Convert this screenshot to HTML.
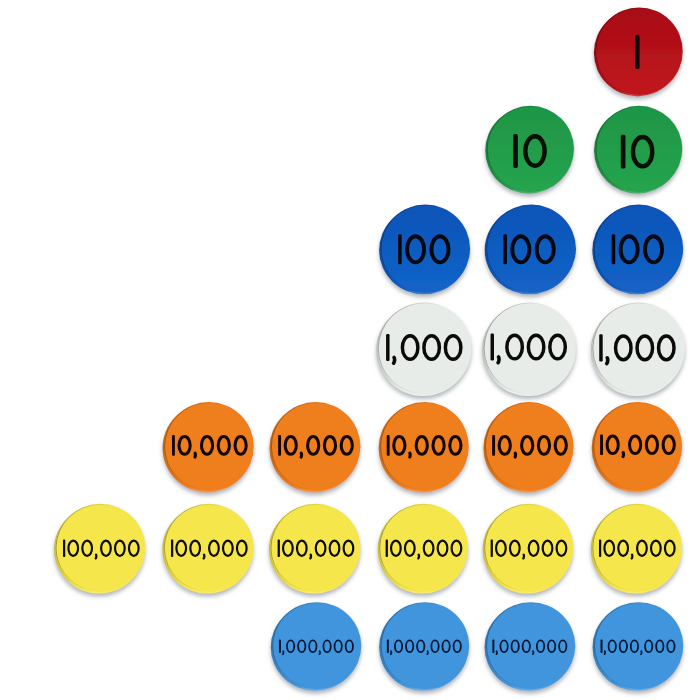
<!DOCTYPE html>
<html><head><meta charset="utf-8"><title>Place value discs</title>
<style>
html,body{margin:0;padding:0;background:#fff;}
body{width:700px;height:700px;overflow:hidden;font-family:"Liberation Sans",sans-serif;}
svg{display:block;}
</style></head><body>
<svg width="700" height="700" viewBox="0 0 700 700">
<defs>
<filter id="sh" x="-20%" y="-20%" width="140%" height="150%">
<feGaussianBlur in="SourceAlpha" stdDeviation="2.0"/>
<feOffset dx="0" dy="3.0" result="b"/>
<feFlood flood-color="#9ea3aa" flood-opacity="0.8"/>
<feComposite in2="b" operator="in"/>
<feMerge><feMergeNode/><feMergeNode in="SourceGraphic"/></feMerge>
</filter>
<linearGradient id="rim" x1="0" y1="0.4" x2="0.55" y2="0.55">
<stop offset="0" stop-color="#000" stop-opacity="0.32"/>
<stop offset="0.5" stop-color="#000" stop-opacity="0.12"/>
<stop offset="1" stop-color="#000" stop-opacity="0"/>
</linearGradient>
</defs>
<rect width="700" height="700" fill="#fff"/>

<linearGradient id="fg0" x1="0" y1="0" x2="0" y2="1"><stop offset="0.1" stop-color="#a90d15"/><stop offset="0.9" stop-color="#bf161e"/></linearGradient>
<linearGradient id="sg0" x1="0" y1="0.3" x2="1" y2="0.7"><stop offset="0" stop-color="#8c0d14"/><stop offset="0.45" stop-color="#b4111a"/><stop offset="0.6" stop-color="#c23c43"/></linearGradient>
<linearGradient id="fg1" x1="0" y1="0" x2="0" y2="1"><stop offset="0.1" stop-color="#1f9646"/><stop offset="0.9" stop-color="#25a34e"/></linearGradient>
<linearGradient id="sg1" x1="0" y1="0.3" x2="1" y2="0.7"><stop offset="0" stop-color="#1b7a3a"/><stop offset="0.45" stop-color="#229c4a"/><stop offset="0.6" stop-color="#4aae6b"/></linearGradient>
<linearGradient id="fg2" x1="0" y1="0" x2="0" y2="1"><stop offset="0.1" stop-color="#0d55b9"/><stop offset="0.9" stop-color="#1262c7"/></linearGradient>
<linearGradient id="sg2" x1="0" y1="0.3" x2="1" y2="0.7"><stop offset="0" stop-color="#0c4796"/><stop offset="0.45" stop-color="#105bc0"/><stop offset="0.6" stop-color="#3b79cb"/></linearGradient>
<linearGradient id="sg3" x1="0" y1="0.3" x2="1" y2="0.7"><stop offset="0" stop-color="#b5b8b5"/><stop offset="0.45" stop-color="#e8ece8"/><stop offset="0.6" stop-color="#ecefec"/></linearGradient>
<linearGradient id="sg4" x1="0" y1="0.3" x2="1" y2="0.7"><stop offset="0" stop-color="#ba6215"/><stop offset="0.45" stop-color="#ef7e1b"/><stop offset="0.6" stop-color="#f29544"/></linearGradient>
<linearGradient id="sg5" x1="0" y1="0.3" x2="1" y2="0.7"><stop offset="0" stop-color="#beb33b"/><stop offset="0.45" stop-color="#f4e64c"/><stop offset="0.6" stop-color="#f6eb6c"/></linearGradient>
<linearGradient id="sg6" x1="0" y1="0.3" x2="1" y2="0.7"><stop offset="0" stop-color="#3174ac"/><stop offset="0.45" stop-color="#3f95dc"/><stop offset="0.6" stop-color="#62a8e2"/></linearGradient>
<g filter="url(#sh)"><ellipse cx="637.55" cy="52.70" rx="43.75" ry="43.70" fill="url(#sg0)"/><ellipse cx="639.05" cy="51.20" rx="43.75" ry="43.70" fill="url(#fg0)"/></g>
<ellipse cx="639.05" cy="51.20" rx="43.25" ry="43.20" fill="none" stroke="url(#rim)" stroke-width="1.0"/>
<g fill="#0c0a0a"><rect x="635.22" y="35.10" width="4.37" height="33.80" rx="1.53"/></g>
<g filter="url(#sh)"><ellipse cx="528.85" cy="150.50" rx="43.65" ry="43.15" fill="url(#sg1)"/><ellipse cx="530.35" cy="149.00" rx="43.65" ry="43.15" fill="url(#fg1)"/></g>
<ellipse cx="530.35" cy="149.00" rx="43.15" ry="42.65" fill="none" stroke="url(#rim)" stroke-width="1.0"/>
<g fill="#0a0f0a"><rect x="513.16" y="134.10" width="4.70" height="33.80" rx="1.65"/><ellipse cx="535.01" cy="151.00" rx="9.65" ry="14.72" fill="none" stroke="#0a0f0a" stroke-width="4.37"/></g>
<g filter="url(#sh)"><ellipse cx="637.40" cy="150.50" rx="43.40" ry="43.15" fill="url(#sg1)"/><ellipse cx="638.90" cy="149.00" rx="43.40" ry="43.15" fill="url(#fg1)"/></g>
<ellipse cx="638.90" cy="149.00" rx="42.90" ry="42.65" fill="none" stroke="url(#rim)" stroke-width="1.0"/>
<g fill="#0a0f0a"><rect x="620.76" y="134.80" width="4.70" height="33.80" rx="1.65"/><ellipse cx="642.61" cy="151.70" rx="9.65" ry="14.72" fill="none" stroke="#0a0f0a" stroke-width="4.37"/></g>
<g filter="url(#sh)"><ellipse cx="423.85" cy="250.20" rx="44.75" ry="44.10" fill="url(#sg2)"/><ellipse cx="425.35" cy="248.70" rx="44.75" ry="44.10" fill="url(#fg2)"/></g>
<ellipse cx="425.35" cy="248.70" rx="44.25" ry="43.60" fill="none" stroke="url(#rim)" stroke-width="1.0"/>
<g fill="#05080f"><rect x="398.12" y="234.30" width="3.58" height="30.00" rx="1.25"/><ellipse cx="415.59" cy="249.30" rx="8.54" ry="13.04" fill="none" stroke="#05080f" stroke-width="3.92"/><ellipse cx="439.98" cy="249.30" rx="8.54" ry="13.04" fill="none" stroke="#05080f" stroke-width="3.92"/></g>
<g filter="url(#sh)"><ellipse cx="529.60" cy="250.20" rx="44.90" ry="44.10" fill="url(#sg2)"/><ellipse cx="531.10" cy="248.70" rx="44.90" ry="44.10" fill="url(#fg2)"/></g>
<ellipse cx="531.10" cy="248.70" rx="44.40" ry="43.60" fill="none" stroke="url(#rim)" stroke-width="1.0"/>
<g fill="#05080f"><rect x="503.37" y="234.30" width="3.58" height="30.00" rx="1.25"/><ellipse cx="520.84" cy="249.30" rx="8.54" ry="13.04" fill="none" stroke="#05080f" stroke-width="3.92"/><ellipse cx="545.23" cy="249.30" rx="8.54" ry="13.04" fill="none" stroke="#05080f" stroke-width="3.92"/></g>
<g filter="url(#sh)"><ellipse cx="637.00" cy="250.20" rx="44.70" ry="44.10" fill="url(#sg2)"/><ellipse cx="638.50" cy="248.70" rx="44.70" ry="44.10" fill="url(#fg2)"/></g>
<ellipse cx="638.50" cy="248.70" rx="44.20" ry="43.60" fill="none" stroke="url(#rim)" stroke-width="1.0"/>
<g fill="#05080f"><rect x="611.67" y="234.30" width="3.58" height="30.00" rx="1.25"/><ellipse cx="629.14" cy="249.30" rx="8.54" ry="13.04" fill="none" stroke="#05080f" stroke-width="3.92"/><ellipse cx="653.53" cy="249.30" rx="8.54" ry="13.04" fill="none" stroke="#05080f" stroke-width="3.92"/></g>
<g filter="url(#sh)"><ellipse cx="423.05" cy="349.95" rx="46.75" ry="46.05" fill="url(#sg3)"/><ellipse cx="424.55" cy="348.45" rx="46.75" ry="46.05" fill="#e8ece8"/></g>
<ellipse cx="424.55" cy="348.45" rx="46.25" ry="45.55" fill="none" stroke="url(#rim)" stroke-width="1.0"/>
<g fill="#0a0a0a"><rect x="386.08" y="333.95" width="3.47" height="27.10" rx="1.22"/><path d="M394.07,357.45 C394.78,358.18 394.88,361.76 393.63,363.16" fill="none" stroke="#0a0a0a" stroke-width="3.65" stroke-linecap="round"/><ellipse cx="410.15" cy="347.50" rx="7.75" ry="11.81" fill="none" stroke="#0a0a0a" stroke-width="3.47"/><ellipse cx="431.64" cy="347.50" rx="7.75" ry="11.81" fill="none" stroke="#0a0a0a" stroke-width="3.47"/><ellipse cx="453.13" cy="347.50" rx="7.75" ry="11.81" fill="none" stroke="#0a0a0a" stroke-width="3.47"/></g>
<g filter="url(#sh)"><ellipse cx="528.25" cy="349.95" rx="46.15" ry="46.05" fill="url(#sg3)"/><ellipse cx="529.75" cy="348.45" rx="46.15" ry="46.05" fill="#e8ece8"/></g>
<ellipse cx="529.75" cy="348.45" rx="45.65" ry="45.55" fill="none" stroke="url(#rim)" stroke-width="1.0"/>
<g fill="#0a0a0a"><rect x="490.53" y="333.45" width="3.47" height="27.10" rx="1.22"/><path d="M498.52,356.95 C499.23,357.68 499.33,361.26 498.08,362.66" fill="none" stroke="#0a0a0a" stroke-width="3.65" stroke-linecap="round"/><ellipse cx="514.60" cy="347.00" rx="7.75" ry="11.81" fill="none" stroke="#0a0a0a" stroke-width="3.47"/><ellipse cx="536.09" cy="347.00" rx="7.75" ry="11.81" fill="none" stroke="#0a0a0a" stroke-width="3.47"/><ellipse cx="557.58" cy="347.00" rx="7.75" ry="11.81" fill="none" stroke="#0a0a0a" stroke-width="3.47"/></g>
<g filter="url(#sh)"><ellipse cx="637.15" cy="349.95" rx="46.25" ry="46.05" fill="url(#sg3)"/><ellipse cx="638.65" cy="348.45" rx="46.25" ry="46.05" fill="#e8ece8"/></g>
<ellipse cx="638.65" cy="348.45" rx="45.75" ry="45.55" fill="none" stroke="url(#rim)" stroke-width="1.0"/>
<g fill="#0a0a0a"><rect x="599.23" y="334.35" width="3.47" height="27.10" rx="1.22"/><path d="M607.22,357.85 C607.93,358.58 608.03,362.16 606.78,363.56" fill="none" stroke="#0a0a0a" stroke-width="3.65" stroke-linecap="round"/><ellipse cx="623.30" cy="347.90" rx="7.75" ry="11.81" fill="none" stroke="#0a0a0a" stroke-width="3.47"/><ellipse cx="644.79" cy="347.90" rx="7.75" ry="11.81" fill="none" stroke="#0a0a0a" stroke-width="3.47"/><ellipse cx="666.28" cy="347.90" rx="7.75" ry="11.81" fill="none" stroke="#0a0a0a" stroke-width="3.47"/></g>
<g filter="url(#sh)"><ellipse cx="207.45" cy="448.00" rx="44.85" ry="44.40" fill="url(#sg4)"/><ellipse cx="208.95" cy="446.50" rx="44.85" ry="44.40" fill="#ef7e1b"/></g>
<ellipse cx="208.95" cy="446.50" rx="44.35" ry="43.90" fill="none" stroke="url(#rim)" stroke-width="1.0"/>
<g fill="#120603"><rect x="171.98" y="435.10" width="2.91" height="20.60" rx="1.02"/><ellipse cx="184.58" cy="445.40" rx="5.59" ry="8.79" fill="none" stroke="#120603" stroke-width="3.02"/><path d="M195.11,453.17 C195.45,453.80 195.55,456.40 194.97,457.10" fill="none" stroke="#120603" stroke-width="3.18" stroke-linecap="round"/><ellipse cx="207.03" cy="445.40" rx="5.59" ry="8.79" fill="none" stroke="#120603" stroke-width="3.02"/><ellipse cx="223.82" cy="445.40" rx="5.59" ry="8.79" fill="none" stroke="#120603" stroke-width="3.02"/><ellipse cx="240.61" cy="445.40" rx="5.59" ry="8.79" fill="none" stroke="#120603" stroke-width="3.02"/></g>
<g filter="url(#sh)"><ellipse cx="314.15" cy="448.00" rx="44.75" ry="44.40" fill="url(#sg4)"/><ellipse cx="315.65" cy="446.50" rx="44.75" ry="44.40" fill="#ef7e1b"/></g>
<ellipse cx="315.65" cy="446.50" rx="44.25" ry="43.90" fill="none" stroke="url(#rim)" stroke-width="1.0"/>
<g fill="#120603"><rect x="278.13" y="435.10" width="2.91" height="20.60" rx="1.02"/><ellipse cx="290.73" cy="445.40" rx="5.59" ry="8.79" fill="none" stroke="#120603" stroke-width="3.02"/><path d="M301.26,453.17 C301.60,453.80 301.70,456.40 301.12,457.10" fill="none" stroke="#120603" stroke-width="3.18" stroke-linecap="round"/><ellipse cx="313.18" cy="445.40" rx="5.59" ry="8.79" fill="none" stroke="#120603" stroke-width="3.02"/><ellipse cx="329.97" cy="445.40" rx="5.59" ry="8.79" fill="none" stroke="#120603" stroke-width="3.02"/><ellipse cx="346.76" cy="445.40" rx="5.59" ry="8.79" fill="none" stroke="#120603" stroke-width="3.02"/></g>
<g filter="url(#sh)"><ellipse cx="422.95" cy="448.00" rx="44.35" ry="44.40" fill="url(#sg4)"/><ellipse cx="424.45" cy="446.50" rx="44.35" ry="44.40" fill="#ef7e1b"/></g>
<ellipse cx="424.45" cy="446.50" rx="43.85" ry="43.90" fill="none" stroke="url(#rim)" stroke-width="1.0"/>
<g fill="#120603"><rect x="386.73" y="435.10" width="2.91" height="20.60" rx="1.02"/><ellipse cx="399.33" cy="445.40" rx="5.59" ry="8.79" fill="none" stroke="#120603" stroke-width="3.02"/><path d="M409.86,453.17 C410.20,453.80 410.30,456.40 409.72,457.10" fill="none" stroke="#120603" stroke-width="3.18" stroke-linecap="round"/><ellipse cx="421.78" cy="445.40" rx="5.59" ry="8.79" fill="none" stroke="#120603" stroke-width="3.02"/><ellipse cx="438.57" cy="445.40" rx="5.59" ry="8.79" fill="none" stroke="#120603" stroke-width="3.02"/><ellipse cx="455.36" cy="445.40" rx="5.59" ry="8.79" fill="none" stroke="#120603" stroke-width="3.02"/></g>
<g filter="url(#sh)"><ellipse cx="527.75" cy="448.00" rx="44.35" ry="44.40" fill="url(#sg4)"/><ellipse cx="529.25" cy="446.50" rx="44.35" ry="44.40" fill="#ef7e1b"/></g>
<ellipse cx="529.25" cy="446.50" rx="43.85" ry="43.90" fill="none" stroke="url(#rim)" stroke-width="1.0"/>
<g fill="#120603"><rect x="492.13" y="435.10" width="2.91" height="20.60" rx="1.02"/><ellipse cx="504.73" cy="445.40" rx="5.59" ry="8.79" fill="none" stroke="#120603" stroke-width="3.02"/><path d="M515.26,453.17 C515.60,453.80 515.70,456.40 515.12,457.10" fill="none" stroke="#120603" stroke-width="3.18" stroke-linecap="round"/><ellipse cx="527.18" cy="445.40" rx="5.59" ry="8.79" fill="none" stroke="#120603" stroke-width="3.02"/><ellipse cx="543.97" cy="445.40" rx="5.59" ry="8.79" fill="none" stroke="#120603" stroke-width="3.02"/><ellipse cx="560.76" cy="445.40" rx="5.59" ry="8.79" fill="none" stroke="#120603" stroke-width="3.02"/></g>
<g filter="url(#sh)"><ellipse cx="636.15" cy="448.00" rx="44.50" ry="44.40" fill="url(#sg4)"/><ellipse cx="637.65" cy="446.50" rx="44.50" ry="44.40" fill="#ef7e1b"/></g>
<ellipse cx="637.65" cy="446.50" rx="44.00" ry="43.90" fill="none" stroke="url(#rim)" stroke-width="1.0"/>
<g fill="#120603"><rect x="600.08" y="434.50" width="2.91" height="20.60" rx="1.02"/><ellipse cx="612.68" cy="444.80" rx="5.59" ry="8.79" fill="none" stroke="#120603" stroke-width="3.02"/><path d="M623.21,452.57 C623.55,453.20 623.65,455.80 623.07,456.50" fill="none" stroke="#120603" stroke-width="3.18" stroke-linecap="round"/><ellipse cx="635.13" cy="444.80" rx="5.59" ry="8.79" fill="none" stroke="#120603" stroke-width="3.02"/><ellipse cx="651.92" cy="444.80" rx="5.59" ry="8.79" fill="none" stroke="#120603" stroke-width="3.02"/><ellipse cx="668.71" cy="444.80" rx="5.59" ry="8.79" fill="none" stroke="#120603" stroke-width="3.02"/></g>
<g filter="url(#sh)"><ellipse cx="98.95" cy="549.45" rx="44.90" ry="44.10" fill="url(#sg5)"/><ellipse cx="100.45" cy="547.95" rx="44.90" ry="44.10" fill="#f4e64c"/></g>
<ellipse cx="100.45" cy="547.95" rx="44.40" ry="43.60" fill="none" stroke="url(#rim)" stroke-width="1.0"/>
<g fill="#0c0a02"><rect x="62.99" y="539.60" width="2.24" height="17.40" rx="0.78"/><ellipse cx="73.24" cy="548.30" rx="4.82" ry="7.61" fill="none" stroke="#0c0a02" stroke-width="2.18"/><ellipse cx="87.16" cy="548.30" rx="4.82" ry="7.61" fill="none" stroke="#0c0a02" stroke-width="2.18"/><path d="M95.97,554.67 C96.45,555.13 96.55,557.44 95.67,558.38" fill="none" stroke="#0c0a02" stroke-width="2.29" stroke-linecap="round"/><ellipse cx="105.95" cy="548.30" rx="4.82" ry="7.61" fill="none" stroke="#0c0a02" stroke-width="2.18"/><ellipse cx="119.87" cy="548.30" rx="4.82" ry="7.61" fill="none" stroke="#0c0a02" stroke-width="2.18"/><ellipse cx="133.79" cy="548.30" rx="4.82" ry="7.61" fill="none" stroke="#0c0a02" stroke-width="2.18"/></g>
<g filter="url(#sh)"><ellipse cx="207.25" cy="549.45" rx="44.90" ry="44.10" fill="url(#sg5)"/><ellipse cx="208.75" cy="547.95" rx="44.90" ry="44.10" fill="#f4e64c"/></g>
<ellipse cx="208.75" cy="547.95" rx="44.40" ry="43.60" fill="none" stroke="url(#rim)" stroke-width="1.0"/>
<g fill="#0c0a02"><rect x="170.99" y="539.60" width="2.24" height="17.40" rx="0.78"/><ellipse cx="181.24" cy="548.30" rx="4.82" ry="7.61" fill="none" stroke="#0c0a02" stroke-width="2.18"/><ellipse cx="195.16" cy="548.30" rx="4.82" ry="7.61" fill="none" stroke="#0c0a02" stroke-width="2.18"/><path d="M203.97,554.67 C204.45,555.13 204.55,557.44 203.67,558.38" fill="none" stroke="#0c0a02" stroke-width="2.29" stroke-linecap="round"/><ellipse cx="213.95" cy="548.30" rx="4.82" ry="7.61" fill="none" stroke="#0c0a02" stroke-width="2.18"/><ellipse cx="227.87" cy="548.30" rx="4.82" ry="7.61" fill="none" stroke="#0c0a02" stroke-width="2.18"/><ellipse cx="241.79" cy="548.30" rx="4.82" ry="7.61" fill="none" stroke="#0c0a02" stroke-width="2.18"/></g>
<g filter="url(#sh)"><ellipse cx="313.95" cy="549.45" rx="44.95" ry="44.10" fill="url(#sg5)"/><ellipse cx="315.45" cy="547.95" rx="44.95" ry="44.10" fill="#f4e64c"/></g>
<ellipse cx="315.45" cy="547.95" rx="44.45" ry="43.60" fill="none" stroke="url(#rim)" stroke-width="1.0"/>
<g fill="#0c0a02"><rect x="277.64" y="539.60" width="2.24" height="17.40" rx="0.78"/><ellipse cx="287.89" cy="548.30" rx="4.82" ry="7.61" fill="none" stroke="#0c0a02" stroke-width="2.18"/><ellipse cx="301.81" cy="548.30" rx="4.82" ry="7.61" fill="none" stroke="#0c0a02" stroke-width="2.18"/><path d="M310.62,554.67 C311.10,555.13 311.20,557.44 310.32,558.38" fill="none" stroke="#0c0a02" stroke-width="2.29" stroke-linecap="round"/><ellipse cx="320.60" cy="548.30" rx="4.82" ry="7.61" fill="none" stroke="#0c0a02" stroke-width="2.18"/><ellipse cx="334.52" cy="548.30" rx="4.82" ry="7.61" fill="none" stroke="#0c0a02" stroke-width="2.18"/><ellipse cx="348.44" cy="548.30" rx="4.82" ry="7.61" fill="none" stroke="#0c0a02" stroke-width="2.18"/></g>
<g filter="url(#sh)"><ellipse cx="422.15" cy="549.45" rx="44.45" ry="44.10" fill="url(#sg5)"/><ellipse cx="423.65" cy="547.95" rx="44.45" ry="44.10" fill="#f4e64c"/></g>
<ellipse cx="423.65" cy="547.95" rx="43.95" ry="43.60" fill="none" stroke="url(#rim)" stroke-width="1.0"/>
<g fill="#0c0a02"><rect x="385.64" y="539.60" width="2.24" height="17.40" rx="0.78"/><ellipse cx="395.89" cy="548.30" rx="4.82" ry="7.61" fill="none" stroke="#0c0a02" stroke-width="2.18"/><ellipse cx="409.81" cy="548.30" rx="4.82" ry="7.61" fill="none" stroke="#0c0a02" stroke-width="2.18"/><path d="M418.62,554.67 C419.10,555.13 419.20,557.44 418.32,558.38" fill="none" stroke="#0c0a02" stroke-width="2.29" stroke-linecap="round"/><ellipse cx="428.60" cy="548.30" rx="4.82" ry="7.61" fill="none" stroke="#0c0a02" stroke-width="2.18"/><ellipse cx="442.52" cy="548.30" rx="4.82" ry="7.61" fill="none" stroke="#0c0a02" stroke-width="2.18"/><ellipse cx="456.44" cy="548.30" rx="4.82" ry="7.61" fill="none" stroke="#0c0a02" stroke-width="2.18"/></g>
<g filter="url(#sh)"><ellipse cx="527.25" cy="549.45" rx="44.60" ry="44.10" fill="url(#sg5)"/><ellipse cx="528.75" cy="547.95" rx="44.60" ry="44.10" fill="#f4e64c"/></g>
<ellipse cx="528.75" cy="547.95" rx="44.10" ry="43.60" fill="none" stroke="url(#rim)" stroke-width="1.0"/>
<g fill="#0c0a02"><rect x="490.64" y="539.60" width="2.24" height="17.40" rx="0.78"/><ellipse cx="500.89" cy="548.30" rx="4.82" ry="7.61" fill="none" stroke="#0c0a02" stroke-width="2.18"/><ellipse cx="514.81" cy="548.30" rx="4.82" ry="7.61" fill="none" stroke="#0c0a02" stroke-width="2.18"/><path d="M523.62,554.67 C524.10,555.13 524.20,557.44 523.32,558.38" fill="none" stroke="#0c0a02" stroke-width="2.29" stroke-linecap="round"/><ellipse cx="533.60" cy="548.30" rx="4.82" ry="7.61" fill="none" stroke="#0c0a02" stroke-width="2.18"/><ellipse cx="547.52" cy="548.30" rx="4.82" ry="7.61" fill="none" stroke="#0c0a02" stroke-width="2.18"/><ellipse cx="561.44" cy="548.30" rx="4.82" ry="7.61" fill="none" stroke="#0c0a02" stroke-width="2.18"/></g>
<g filter="url(#sh)"><ellipse cx="635.65" cy="549.45" rx="44.90" ry="44.10" fill="url(#sg5)"/><ellipse cx="637.15" cy="547.95" rx="44.90" ry="44.10" fill="#f4e64c"/></g>
<ellipse cx="637.15" cy="547.95" rx="44.40" ry="43.60" fill="none" stroke="url(#rim)" stroke-width="1.0"/>
<g fill="#0c0a02"><rect x="598.99" y="539.60" width="2.24" height="17.40" rx="0.78"/><ellipse cx="609.24" cy="548.30" rx="4.82" ry="7.61" fill="none" stroke="#0c0a02" stroke-width="2.18"/><ellipse cx="623.16" cy="548.30" rx="4.82" ry="7.61" fill="none" stroke="#0c0a02" stroke-width="2.18"/><path d="M631.97,554.67 C632.45,555.13 632.55,557.44 631.67,558.38" fill="none" stroke="#0c0a02" stroke-width="2.29" stroke-linecap="round"/><ellipse cx="641.95" cy="548.30" rx="4.82" ry="7.61" fill="none" stroke="#0c0a02" stroke-width="2.18"/><ellipse cx="655.87" cy="548.30" rx="4.82" ry="7.61" fill="none" stroke="#0c0a02" stroke-width="2.18"/><ellipse cx="669.79" cy="548.30" rx="4.82" ry="7.61" fill="none" stroke="#0c0a02" stroke-width="2.18"/></g>
<g filter="url(#sh)"><ellipse cx="315.25" cy="647.20" rx="44.55" ry="43.50" fill="url(#sg6)"/><ellipse cx="316.75" cy="645.70" rx="44.55" ry="43.50" fill="#3f95dc"/></g>
<ellipse cx="316.75" cy="645.70" rx="44.05" ry="43.00" fill="none" stroke="url(#rim)" stroke-width="1.0"/>
<g fill="#071634"><rect x="278.93" y="639.55" width="2.02" height="13.50" rx="0.71"/><path d="M283.19,651.29 C283.51,651.67 283.61,653.43 283.01,654.07" fill="none" stroke="#071634" stroke-width="1.88" stroke-linecap="round"/><ellipse cx="290.63" cy="646.30" rx="3.66" ry="5.85" fill="none" stroke="#071634" stroke-width="1.79"/><ellipse cx="301.74" cy="646.30" rx="3.66" ry="5.85" fill="none" stroke="#071634" stroke-width="1.79"/><ellipse cx="312.85" cy="646.30" rx="3.66" ry="5.85" fill="none" stroke="#071634" stroke-width="1.79"/><path d="M319.66,651.29 C319.98,651.67 320.08,653.43 319.47,654.07" fill="none" stroke="#071634" stroke-width="1.88" stroke-linecap="round"/><ellipse cx="327.09" cy="646.30" rx="3.66" ry="5.85" fill="none" stroke="#071634" stroke-width="1.79"/><ellipse cx="338.20" cy="646.30" rx="3.66" ry="5.85" fill="none" stroke="#071634" stroke-width="1.79"/><ellipse cx="349.32" cy="646.30" rx="3.66" ry="5.85" fill="none" stroke="#071634" stroke-width="1.79"/></g>
<g filter="url(#sh)"><ellipse cx="423.40" cy="647.20" rx="44.30" ry="43.50" fill="url(#sg6)"/><ellipse cx="424.90" cy="645.70" rx="44.30" ry="43.50" fill="#3f95dc"/></g>
<ellipse cx="424.90" cy="645.70" rx="43.80" ry="43.00" fill="none" stroke="url(#rim)" stroke-width="1.0"/>
<g fill="#071634"><rect x="386.83" y="639.55" width="2.02" height="13.50" rx="0.71"/><path d="M391.09,651.29 C391.41,651.67 391.51,653.43 390.91,654.07" fill="none" stroke="#071634" stroke-width="1.88" stroke-linecap="round"/><ellipse cx="398.53" cy="646.30" rx="3.66" ry="5.85" fill="none" stroke="#071634" stroke-width="1.79"/><ellipse cx="409.64" cy="646.30" rx="3.66" ry="5.85" fill="none" stroke="#071634" stroke-width="1.79"/><ellipse cx="420.75" cy="646.30" rx="3.66" ry="5.85" fill="none" stroke="#071634" stroke-width="1.79"/><path d="M427.56,651.29 C427.88,651.67 427.98,653.43 427.37,654.07" fill="none" stroke="#071634" stroke-width="1.88" stroke-linecap="round"/><ellipse cx="434.99" cy="646.30" rx="3.66" ry="5.85" fill="none" stroke="#071634" stroke-width="1.79"/><ellipse cx="446.10" cy="646.30" rx="3.66" ry="5.85" fill="none" stroke="#071634" stroke-width="1.79"/><ellipse cx="457.22" cy="646.30" rx="3.66" ry="5.85" fill="none" stroke="#071634" stroke-width="1.79"/></g>
<g filter="url(#sh)"><ellipse cx="529.15" cy="647.20" rx="44.65" ry="43.50" fill="url(#sg6)"/><ellipse cx="530.65" cy="645.70" rx="44.65" ry="43.50" fill="#3f95dc"/></g>
<ellipse cx="530.65" cy="645.70" rx="44.15" ry="43.00" fill="none" stroke="url(#rim)" stroke-width="1.0"/>
<g fill="#071634"><rect x="492.38" y="639.55" width="2.02" height="13.50" rx="0.71"/><path d="M496.64,651.29 C496.96,651.67 497.06,653.43 496.46,654.07" fill="none" stroke="#071634" stroke-width="1.88" stroke-linecap="round"/><ellipse cx="504.08" cy="646.30" rx="3.66" ry="5.85" fill="none" stroke="#071634" stroke-width="1.79"/><ellipse cx="515.19" cy="646.30" rx="3.66" ry="5.85" fill="none" stroke="#071634" stroke-width="1.79"/><ellipse cx="526.30" cy="646.30" rx="3.66" ry="5.85" fill="none" stroke="#071634" stroke-width="1.79"/><path d="M533.11,651.29 C533.43,651.67 533.53,653.43 532.92,654.07" fill="none" stroke="#071634" stroke-width="1.88" stroke-linecap="round"/><ellipse cx="540.54" cy="646.30" rx="3.66" ry="5.85" fill="none" stroke="#071634" stroke-width="1.79"/><ellipse cx="551.65" cy="646.30" rx="3.66" ry="5.85" fill="none" stroke="#071634" stroke-width="1.79"/><ellipse cx="562.77" cy="646.30" rx="3.66" ry="5.85" fill="none" stroke="#071634" stroke-width="1.79"/></g>
<g filter="url(#sh)"><ellipse cx="637.15" cy="647.20" rx="44.65" ry="43.50" fill="url(#sg6)"/><ellipse cx="638.65" cy="645.70" rx="44.65" ry="43.50" fill="#3f95dc"/></g>
<ellipse cx="638.65" cy="645.70" rx="44.15" ry="43.00" fill="none" stroke="url(#rim)" stroke-width="1.0"/>
<g fill="#071634"><rect x="600.53" y="639.55" width="2.02" height="13.50" rx="0.71"/><path d="M604.79,651.29 C605.11,651.67 605.21,653.43 604.61,654.07" fill="none" stroke="#071634" stroke-width="1.88" stroke-linecap="round"/><ellipse cx="612.23" cy="646.30" rx="3.66" ry="5.85" fill="none" stroke="#071634" stroke-width="1.79"/><ellipse cx="623.34" cy="646.30" rx="3.66" ry="5.85" fill="none" stroke="#071634" stroke-width="1.79"/><ellipse cx="634.45" cy="646.30" rx="3.66" ry="5.85" fill="none" stroke="#071634" stroke-width="1.79"/><path d="M641.26,651.29 C641.58,651.67 641.68,653.43 641.07,654.07" fill="none" stroke="#071634" stroke-width="1.88" stroke-linecap="round"/><ellipse cx="648.69" cy="646.30" rx="3.66" ry="5.85" fill="none" stroke="#071634" stroke-width="1.79"/><ellipse cx="659.80" cy="646.30" rx="3.66" ry="5.85" fill="none" stroke="#071634" stroke-width="1.79"/><ellipse cx="670.92" cy="646.30" rx="3.66" ry="5.85" fill="none" stroke="#071634" stroke-width="1.79"/></g>
</svg>
</body></html>
